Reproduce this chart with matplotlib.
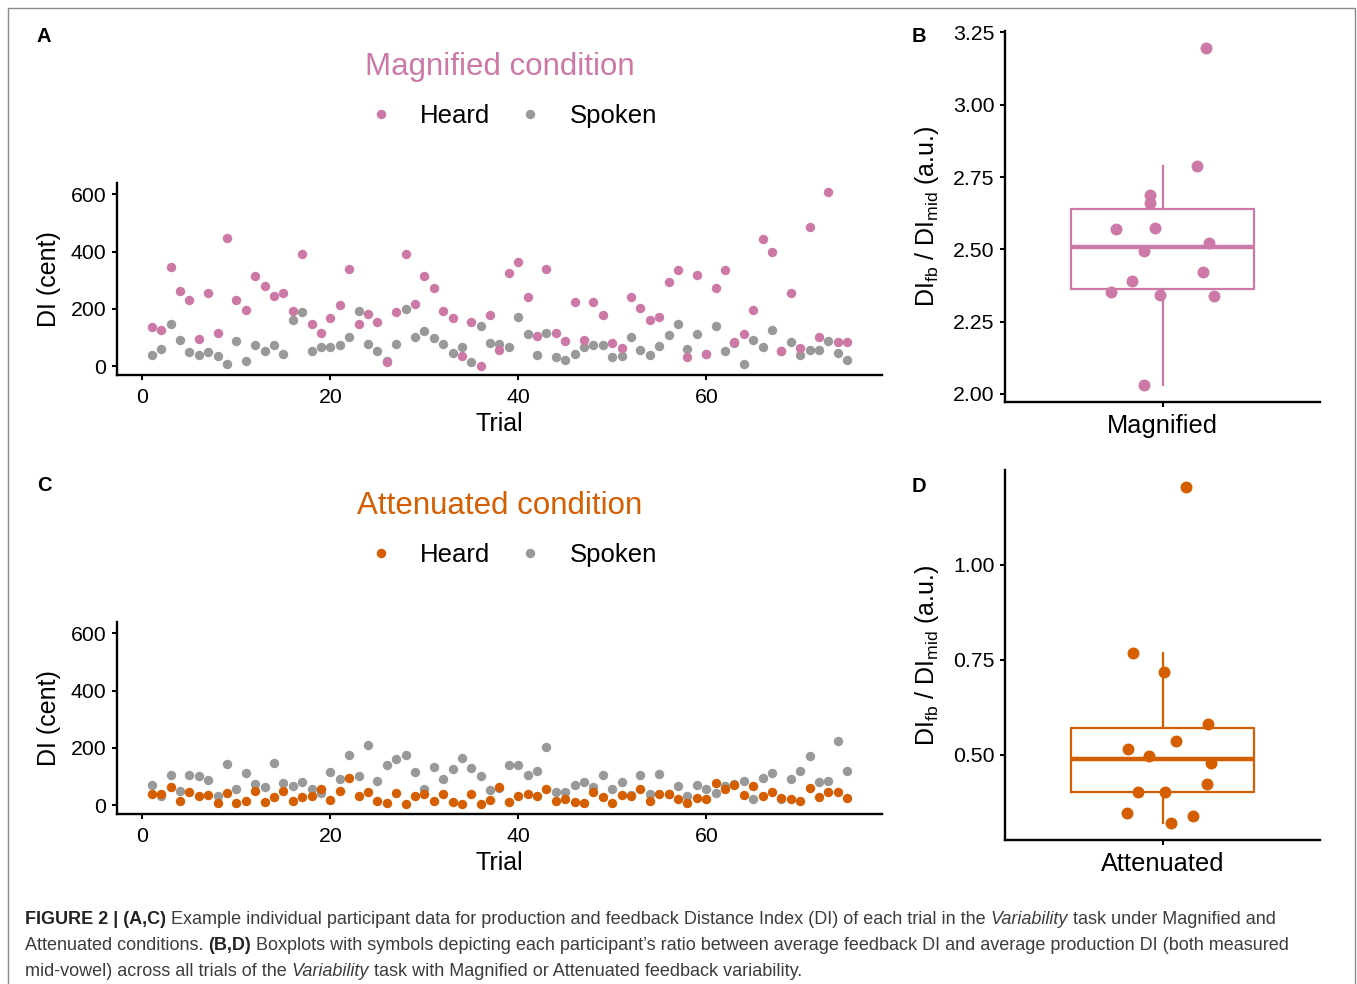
import numpy as np
import matplotlib
matplotlib.use('Agg')
import matplotlib.pyplot as plt
from matplotlib.patches import Rectangle
from matplotlib.lines import Line2D
from matplotlib.ticker import FormatStrFormatter
from matplotlib import font_manager

plt.rcParams['font.family'] = ['Liberation Sans', 'DejaVu Sans']
plt.rcParams['mathtext.default'] = 'regular'

PINK = '#CC79A7'
ORANGE = '#D55E00'
GREY = '#999999'

# ---- data ----
trials = np.arange(1, 76)

mag_heard = [136, 127, 345, 262, 233, 96, 254, 117, 449, 230, 198, 315, 280, 246, 255,
             192, 391, 146, 118, 169, 213, 338, 149, 181, 154, 14, 190, 393, 218, 314,
             272, 192, 168, 35, 156, 3, 178, 58, 326, 363, 243, 105, 339, 115, 90,
             226, 92, 226, 180, 80, 63, 243, 205, 163, 171, 295, 337, 34, 318, 44,
             274, 335, 84, 112, 197, 443, 398, 55, 255, 64, 487, 104, 609, 86, 86]
mag_spoken = [38, 61, 149, 91, 51, 41, 51, 37, 8, 90, 20, 73, 52, 75, 42,
              162, 191, 54, 69, 69, 75, 104, 194, 79, 52, 18, 78, 199, 101, 125,
              100, 79, 47, 68, 14, 140, 82, 78, 68, 171, 113, 40, 117, 33, 23,
              43, 66, 75, 73, 33, 35, 101, 57, 40, 70, 111, 149, 62, 114, 42,
              141, 54, 82, 9, 93, 69, 127, 52, 84, 40, 58, 58, 87, 45, 23]
att_heard = [38, 38, 64, 17, 47, 31, 36, 10, 43, 10, 16, 50, 13, 28, 49,
             14, 30, 33, 56, 20, 49, 96, 33, 45, 14, 10, 43, 5, 33, 38,
             14, 40, 12, 5, 38, 5, 18, 64, 12, 34, 41, 34, 58, 17, 23,
             12, 9, 47, 30, 10, 36, 31, 57, 14, 38, 38, 24, 8, 27, 21,
             79, 57, 72, 37, 66, 31, 48, 26, 22, 17, 61, 30, 47, 48, 27]
att_spoken = [72, 31, 107, 49, 107, 101, 89, 34, 145, 57, 112, 75, 63, 148, 77,
              69, 80, 57, 43, 117, 91, 175, 101, 209, 86, 142, 160, 174, 115, 58,
              133, 91, 128, 166, 132, 104, 53, 60, 140, 142, 107, 121, 202, 47, 47,
              70, 80, 64, 107, 58, 82, 35, 105, 40, 111, 40, 69, 33, 72, 56,
              44, 68, 76, 84, 23, 96, 113, 23, 93, 120, 171, 83, 85, 223, 120]

mag_ratio = [3.197, 2.788, 2.687, 2.661, 2.572, 2.574, 2.523, 2.494, 2.421, 2.389,
             2.353, 2.343, 2.340, 2.030]
mag_jitter = [0.164, 0.130, -0.046, -0.046, -0.179, -0.027, 0.179, -0.069, 0.153, -0.115,
              -0.198, -0.008, 0.195, -0.069]
att_ratio = [1.206, 0.768, 0.719, 0.582, 0.537, 0.516, 0.498, 0.478, 0.424, 0.403,
             0.403, 0.348, 0.340, 0.320]
att_jitter = [0.088, -0.111, 0.004, 0.172, 0.053, -0.130, -0.050, 0.183, 0.168, -0.092,
              0.011, -0.134, 0.115, 0.031]

W, H = 1357, 984
fig = plt.figure(figsize=(W / 100, H / 100), dpi=100)


def px_axes(x0, y0, x1, y1):
    return fig.add_axes([x0 / W, 1 - y1 / H, (x1 - x0) / W, (y1 - y0) / H])


def style_axes(ax):
    for s in ('top', 'right'):
        ax.spines[s].set_visible(False)
    for s in ('left', 'bottom'):
        ax.spines[s].set_linewidth(1.7)
    ax.tick_params(direction='out', length=3.6, width=1.5, labelsize=15.3, pad=4,
                   colors='black')


def scatter_panel(ax, heard, spoken, color, title):
    ax.scatter(trials, spoken, s=46, color=GREY, linewidths=0, zorder=2)
    ax.scatter(trials, heard, s=46, color=color, linewidths=0, zorder=3)
    ax.set_xlim(-2.7, 78.7)
    ax.set_ylim(-30, 639)
    ax.set_xticks([0, 20, 40, 60])
    ax.set_yticks([0, 200, 400, 600])
    style_axes(ax)
    ax.tick_params(axis='x', pad=6)
    ax.set_xlabel('Trial', fontsize=18)
    ax.set_ylabel('DI (cent)', fontsize=18)
    ax.xaxis.set_label_coords(0.5, -0.195)
    ax.yaxis.set_label_coords(-0.073, 0.5)
    ax.text(0.5, 1.605, title, transform=ax.transAxes, ha='center', va='center',
            fontsize=22.5, color=color)
    handles = [Line2D([], [], marker='o', ls='none', color=color, markersize=6.8, mew=0),
               Line2D([], [], marker='o', ls='none', color=GREY, markersize=6.8, mew=0)]
    ax.legend(handles, ['Heard', 'Spoken'], loc='center', bbox_to_anchor=(0.513, 1.35),
              ncol=2, frameon=False, fontsize=18.5, handlelength=1.5,
              handletextpad=0.8, columnspacing=0.8, borderaxespad=0)


def box_panel(ax, vals, jit, color, label, ylim, yticks):
    ax.boxplot([vals], positions=[1], widths=0.7, showfliers=False, showcaps=False,
               patch_artist=False,
               boxprops=dict(color=color, linewidth=1.6),
               whiskerprops=dict(color=color, linewidth=1.6),
               medianprops=dict(color=color, linewidth=3.2))
    ax.scatter(1 + np.array(jit), vals, s=74, color=color, linewidths=0, zorder=3)
    ax.set_xlim(0.4, 1.6)
    ax.set_ylim(*ylim)
    ax.set_yticks(yticks)
    ax.yaxis.set_major_formatter(FormatStrFormatter('%.2f'))
    ax.set_xticks([1])
    ax.set_xticklabels([label], fontsize=18)
    style_axes(ax)
    ax.tick_params(axis='x', pad=5, labelsize=18.3)
    ax.set_ylabel(r'DI$_{fb}$ / DI$_{mid}$ (a.u.)', fontsize=18)
    ax.yaxis.set_label_coords(-0.203, 0.5)


axA = px_axes(117, 183, 882, 375)
scatter_panel(axA, mag_heard, mag_spoken, PINK, 'Magnified condition')
axC = px_axes(117, 622, 882, 814)
scatter_panel(axC, att_heard, att_spoken, ORANGE, 'Attenuated condition')

axB = px_axes(1005, 31, 1320, 402)
box_panel(axB, mag_ratio, mag_jitter, PINK, 'Magnified', (1.972, 3.255),
          [2.00, 2.25, 2.50, 2.75, 3.00, 3.25])
axD = px_axes(1005, 470, 1320, 840)
box_panel(axD, att_ratio, att_jitter, ORANGE, 'Attenuated', (0.276, 1.250),
          [0.50, 0.75, 1.00])

for letter, (x, y) in zip('ABCD', [(44, 36), (919, 36), (44, 485), (919, 486)]):
    fig.text(x / W, 1 - y / H, letter, ha='center', va='center', fontsize=14.5,
             fontweight='bold')

# outer frame
fig.patches.append(Rectangle((8 / W, -0.05), (1355 - 8) / W, 1 - 8 / H + 0.05,
                             transform=fig.transFigure, fill=False,
                             edgecolor='#8a8a8a', linewidth=1.0))

# caption with mixed styles
names = {f.name for f in font_manager.fontManager.ttflist}
cap_font = 'Liberation Sans Narrow' if 'Liberation Sans Narrow' in names else 'Liberation Sans'
CAP_SIZE = 12.95
CAP_COLOR = '#3c3c3c'
renderer = fig.canvas.get_renderer()


def text_width(s, **kw):
    t = fig.text(0, 0, s, fontsize=CAP_SIZE, family=cap_font, **kw)
    w = t.get_window_extent(renderer).width
    t.remove()
    return w


space_w = text_width('a a') - text_width('aa')


def rich_line(x, y, parts):
    for s, kind in parts:
        kw = {}
        if kind == 'b':
            kw['fontweight'] = 'bold'
            kw['color'] = '#222222'
        elif kind == 'i':
            kw['fontstyle'] = 'italic'
        lead = len(s) - len(s.lstrip(' '))
        trail = len(s) - len(s.rstrip(' '))
        x += lead * space_w
        core = s.strip(' ')
        t = fig.text(x / W, 1 - y / H, core, fontsize=CAP_SIZE, family=cap_font,
                     color=kw.pop('color', CAP_COLOR), va='center', ha='left', **kw)
        x += t.get_window_extent(renderer).width + trail * space_w


cap_lines = [
    [('FIGURE 2 | (A,C)', 'b'),
     (' Example individual participant data for production and feedback Distance Index (DI) '
      'of each trial in the ', 'n'),
     ('Variability', 'i'), (' task under Magnified and', 'n')],
    [('Attenuated conditions. ', 'n'), ('(B,D)', 'b'),
     (' Boxplots with symbols depicting each participant\u2019s ratio between average feedback '
      'DI and average production DI (both measured', 'n')],
    [('mid-vowel) across all trials of the ', 'n'), ('Variability', 'i'),
     (' task with Magnified or Attenuated feedback variability.', 'n')],
]
for i, parts in enumerate(cap_lines):
    rich_line(25, 920 + i * 25.5, parts)

fig.savefig('out.png', dpi=100, facecolor='white')
